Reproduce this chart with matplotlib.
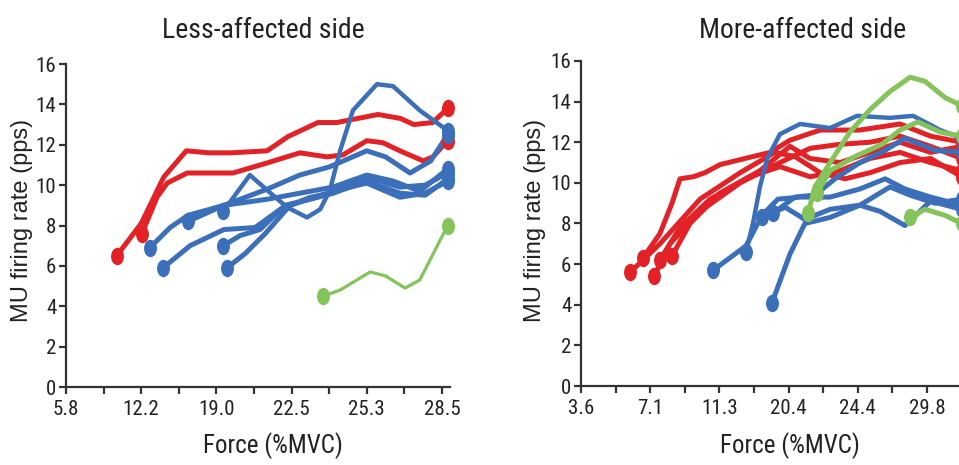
import matplotlib
matplotlib.use("Agg")
import matplotlib.pyplot as plt
from matplotlib import font_manager as fm
from matplotlib.path import Path
from matplotlib.transforms import Affine2D

# ---------------- data ----------------
left_xticklabels = ["5.8", "", "12.2", "", "19.0", "", "22.5", "", "25.3", "", "28.5"]
right_xticklabels = ["3.6", "", "7.1", "", "11.3", "", "20.4", "", "24.4", "", "29.8", ""]
yticks = [0, 2, 4, 6, 8, 10, 12, 14, 16]

L_red1_x = [1.35, 2.0, 2.6, 3.2, 3.8, 4.4, 5.35, 5.9, 6.7, 7.2, 8.3, 8.9, 9.25, 9.75, 10.15]
L_red1_y = [6.5, 8.1, 10.4, 11.7, 11.6, 11.6, 11.7, 12.4, 13.1, 13.1, 13.5, 13.3, 13.0, 13.1, 13.8]
L_red2_x = [2.02, 2.42, 2.69, 3.22, 3.91, 4.44, 5.35, 6.22, 6.94, 7.37, 8.0, 8.43, 8.88, 9.5, 9.76, 10.15]
L_red2_y = [7.6, 9.4, 10.1, 10.6, 10.6, 10.6, 11.1, 11.6, 11.4, 11.5, 12.2, 12.1, 11.7, 11.2, 11.4, 12.2]
L_blue1_x = [4.18, 4.89, 5.35, 5.88, 6.41, 6.76, 7.02, 7.29, 7.63, 8.27, 8.7, 9.41, 10.15]
L_blue1_y = [8.7, 10.5, 9.75, 8.9, 8.4, 8.8, 9.75, 11.7, 13.7, 15.0, 14.9, 13.7, 12.7]
L_blue2_x = [3.24, 4.2, 5.35, 6.22, 7.1, 8.0, 8.7, 9.41, 10.15]
L_blue2_y = [8.2, 9.0, 9.3, 9.6, 9.9, 10.5, 10.2, 9.7, 10.8]
L_blue3_x = [2.23, 2.77, 3.24, 4.2, 5.35, 6.22, 7.0, 8.0, 8.5, 9.15, 9.7, 10.15]
L_blue3_y = [6.9, 7.9, 8.5, 9.0, 9.8, 10.5, 10.9, 11.7, 11.4, 10.6, 11.2, 12.5]
L_blue4_x = [2.58, 3.3, 4.2, 5.03, 5.7, 6.5, 7.1, 8.0, 8.88, 9.55, 10.15]
L_blue4_y = [5.9, 7.0, 7.8, 7.9, 8.8, 9.4, 9.6, 10.2, 9.6, 9.5, 10.3]
L_blue5_x = [4.18, 4.63, 5.16, 5.82, 6.5, 7.1, 8.0, 8.88, 9.55, 10.15]
L_blue5_y = [7.0, 7.5, 7.8, 9.0, 9.3, 9.6, 10.4, 9.9, 10.0, 10.6]
L_blue6_x = [4.28, 4.76, 5.3, 5.96, 6.76, 7.55, 8.0, 8.88, 9.55, 10.15]
L_blue6_y = [5.9, 6.6, 7.6, 9.0, 9.5, 9.9, 10.1, 9.4, 9.6, 10.2]
L_green1_x = [6.84, 7.29, 8.09, 8.5, 9.02, 9.41, 10.15]
L_green1_y = [4.5, 4.8, 5.7, 5.5, 4.9, 5.3, 8.0]

R_red1_x = [1.79, 2.28, 2.63, 2.86, 3.24, 3.58, 4.02, 4.74, 5.46, 6.04, 6.91, 8.06, 9.22, 10.1, 11.0]
R_red1_y = [6.3, 7.5, 9.0, 10.2, 10.3, 10.5, 10.9, 11.2, 11.5, 12.1, 12.6, 12.6, 12.9, 12.3, 12.0]
R_red2_x = [1.42, 2.28, 3.44, 4.6, 5.6, 6.18, 6.91, 7.63, 8.35, 9.22, 10.1, 11.0]
R_red2_y = [5.6, 7.0, 9.2, 10.5, 11.5, 11.3, 10.5, 10.2, 10.5, 11.0, 11.2, 10.3]
R_red3_x = [2.11, 2.57, 3.44, 4.6, 5.75, 6.62, 7.49, 8.35, 9.22, 10.1, 11.0]
R_red3_y = [5.4, 7.0, 8.6, 10.0, 11.0, 11.7, 11.9, 12.0, 12.3, 11.8, 11.2]
R_red4_x = [2.28, 2.86, 3.73, 4.88, 5.75, 6.62, 7.49, 8.35, 9.22, 10.1, 11.0]
R_red4_y = [6.2, 7.8, 9.2, 10.3, 10.8, 10.3, 10.6, 11.2, 11.5, 11.0, 10.6]
R_red5_x = [2.63, 3.15, 4.02, 5.17, 6.04, 6.62, 7.49, 8.35, 9.22, 10.1, 11.0]
R_red5_y = [6.4, 8.0, 9.5, 10.6, 11.8, 11.2, 11.0, 11.5, 12.0, 11.5, 11.8]
R_blue1_x = [3.82, 4.77, 5.23, 5.69, 6.33, 7.2, 8.06, 8.79, 9.36, 10.1, 11.0]
R_blue1_y = [5.7, 6.9, 8.4, 9.2, 9.3, 9.3, 9.7, 10.2, 9.7, 9.3, 8.9]
R_blue2_x = [4.77, 4.97, 5.17, 5.38, 5.75, 6.33, 7.2, 7.98, 8.93, 9.6, 10.38, 11.0]
R_blue2_y = [6.6, 8.0, 9.8, 11.2, 12.4, 12.9, 12.7, 13.3, 13.2, 13.3, 12.6, 12.2]
R_blue3_x = [5.52, 6.04, 6.47, 7.2, 8.06, 8.64, 9.36, 10.1, 11.0]
R_blue3_y = [4.1, 6.5, 8.0, 8.3, 8.9, 8.6, 7.9, 9.1, 8.7]
R_blue4_x = [5.23, 5.9, 6.47, 7.2, 8.06, 8.93, 9.5, 10.23, 11.0]
R_blue4_y = [8.3, 8.8, 8.2, 8.7, 8.9, 9.8, 9.4, 9.0, 9.2]
R_blue5_x = [5.55, 6.18, 6.76, 7.34, 8.06, 8.79, 9.36, 10.23, 11.0]
R_blue5_y = [8.5, 9.3, 9.4, 10.2, 11.0, 11.6, 12.2, 11.6, 11.5]
R_green1_x = [6.56, 6.76, 7.2, 7.77, 8.35, 8.93, 9.51, 9.94, 10.52, 11.0]
R_green1_y = [8.5, 9.8, 11.0, 12.5, 13.6, 14.5, 15.2, 15.0, 14.2, 13.8]
R_green2_x = [6.82, 7.2, 7.92, 8.7, 9.22, 9.74, 10.38, 11.0]
R_green2_y = [9.5, 10.6, 11.3, 11.9, 12.6, 13.0, 12.5, 12.3]
R_green3_x = [9.51, 9.94, 10.52, 11.0]
R_green3_y = [8.3, 8.7, 8.4, 8.0]

RED = "#e32228"
BLUE = "#3b6fba"
GREEN = "#84c45a"

left_series = [
    (L_red1_x, L_red1_y, RED, 3.6), (L_red2_x, L_red2_y, RED, 3.6),
    (L_blue2_x, L_blue2_y, BLUE, 3.6), (L_blue3_x, L_blue3_y, BLUE, 3.6),
    (L_blue4_x, L_blue4_y, BLUE, 3.6), (L_blue5_x, L_blue5_y, BLUE, 3.6),
    (L_blue6_x, L_blue6_y, BLUE, 3.6), (L_blue1_x, L_blue1_y, BLUE, 3.2),
    (L_green1_x, L_green1_y, GREEN, 2.3),
]
right_series = [
    (R_red1_x, R_red1_y, RED, 3.6), (R_red2_x, R_red2_y, RED, 3.6),
    (R_red3_x, R_red3_y, RED, 3.6), (R_red4_x, R_red4_y, RED, 3.6),
    (R_red5_x, R_red5_y, RED, 3.6),
    (R_blue1_x, R_blue1_y, BLUE, 3.6), (R_blue2_x, R_blue2_y, BLUE, 3.2),
    (R_blue3_x, R_blue3_y, BLUE, 3.6), (R_blue4_x, R_blue4_y, BLUE, 3.6),
    (R_blue5_x, R_blue5_y, BLUE, 3.6),
    (R_green1_x, R_green1_y, GREEN, 3.6), (R_green2_x, R_green2_y, GREEN, 3.6),
    (R_green3_x, R_green3_y, GREEN, 3.6),
]

# ---------------- fonts: look for a narrow / condensed face ----------------
def find_narrow():
    prefs = ["LiberationSansNarrow-Regular", "ArialNarrow", "RobotoCondensed-Regular",
             "Roboto_Condensed", "RobotoCondensed", "OpenSans_Condensed", "OpenSansCondensed",
             "NotoSans-Condensed", "NotoSansCondensed", "DejaVuSansCondensed."]
    files = [f.fname for f in fm.fontManager.ttflist]
    for p in prefs:
        for fn in files:
            base = fn.split("/")[-1].replace(" ", "")
            if p.lower() in base.lower() and "bold" not in base.lower() and "italic" not in base.lower():
                return fm.FontProperties(fname=fn)
    for f in fm.fontManager.ttflist:
        if f.stretch in ("condensed", "semi-condensed", "extra-condensed") and f.weight in (400, "normal", "regular") and f.style == "normal":
            return fm.FontProperties(fname=f.fname)
    return fm.FontProperties(family="Liberation Sans")


NARROW_FP = find_narrow()
TXT = "#222222"


def nfp(size):
    fp = NARROW_FP.copy()
    fp.set_size(size)
    return fp


marker_path = Path.unit_circle().transformed(Affine2D().scale(0.72, 1.0))

fig = plt.figure(figsize=(9.59, 4.65), dpi=100)
W, H = 959.0, 465.0


def make_ax(x0_px, y0_px, y16_px, width_px, xlim, labels):
    ax = fig.add_axes([x0_px / W, (H - y0_px) / H, width_px / W, (y0_px - y16_px) / H])
    ax.set_xlim(*xlim)
    ax.set_ylim(0, 16)
    for s in ("top", "right"):
        ax.spines[s].set_visible(False)
    for s in ("left", "bottom"):
        ax.spines[s].set_color("#333333")
        ax.spines[s].set_linewidth(1.6)
    ax.set_xticks(range(len(labels)))
    ax.set_xticklabels(labels, fontproperties=nfp(15), color=TXT)
    ax.set_yticks(yticks)
    ax.set_yticklabels([str(v) for v in yticks], fontproperties=nfp(15), color=TXT)
    ax.tick_params(direction="out", length=5, width=1.6, color="#333333")
    ax.tick_params(axis="x", pad=4)
    ax.tick_params(axis="y", pad=2)
    return ax


axL = make_ax(66, 387, 64, 383.5, (0, 10.2), left_xticklabels)
axR = make_ax(581, 386, 61, 391, (0, 11.3), right_xticklabels)

for ax, series in ((axL, left_series), (axR, right_series)):
    for xs, ys, c, lw in series:
        ax.plot(xs, ys, color=c, lw=lw, solid_joinstyle="round", solid_capstyle="round",
                clip_on=False, zorder=3)
        ax.plot([xs[0], xs[-1]], [ys[0], ys[-1]], ls="none", marker=marker_path,
                ms=11.5, color=c, clip_on=False, zorder=4)

fig.text(263 / W, 1 - 30 / H, "Less-affected side", ha="center", va="center",
         fontproperties=nfp(20), color=TXT)
fig.text(803 / W, 1 - 30 / H, "More-affected side", ha="center", va="center",
         fontproperties=nfp(20), color=TXT)
fig.text(273 / W, 1 - 446 / H, "Force (%MVC)", ha="center", va="center",
         fontproperties=nfp(18), color=TXT)
fig.text(790 / W, 1 - 446 / H, "Force (%MVC)", ha="center", va="center",
         fontproperties=nfp(18), color=TXT)
fig.text(22 / W, 1 - 220 / H, "MU firing rate (pps)", ha="center", va="center",
         rotation=90, fontsize=17, family="Liberation Sans", color=TXT)
fig.text(535 / W, 1 - 220 / H, "MU firing rate (pps)", ha="center", va="center",
         rotation=90, fontsize=17, family="Liberation Sans", color=TXT)

fig.savefig("out.png", dpi=100)
